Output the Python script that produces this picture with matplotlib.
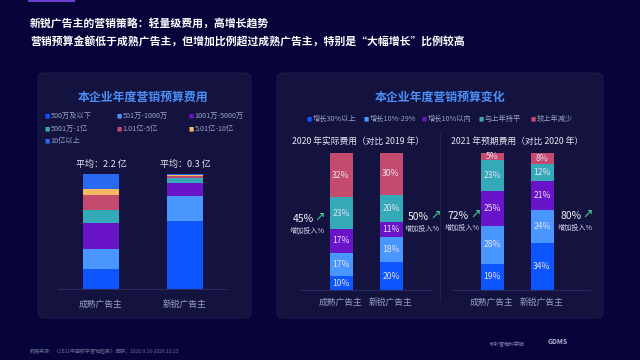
import matplotlib
matplotlib.use("Agg")
import matplotlib.pyplot as plt
from matplotlib.patches import FancyBboxPatch, Rectangle
import numpy as np

plt.rcParams['font.family'] = ['Noto Sans CJK SC', 'DejaVu Sans']

# ---- data ----
headline = ["新锐广告主的营销策略：轻量级费用，高增长趋势",
            "营销预算金额低于成熟广告主，但增加比例超过成熟广告主，特别是“大幅增长”比例较高"]

groups = ["成熟广告主", "新锐广告主"]

budget_bins = ["500万及以下", "501万-1000万", "1001万-5000万", "5001万-1亿",
               "1.01亿-5亿", "5.01亿-10亿", "10亿以上"]
budget_mature = [17.3, 17.3, 23.1, 11.0, 13.0, 4.9, 13.4]
budget_new = [58.7, 22.3, 11.0, 4.6, 1.7, 0.9, 0.8]
budget_avg = ["平均：2.2 亿", "平均：0.3 亿"]

change_cats = ["增长30%以上", "增长10%-29%", "增长10%以内", "与上年持平", "较上年减少"]
y2020_mature = [10, 17, 17, 23, 32]
y2020_new = [20, 18, 11, 20, 30]
y2021_mature = [19, 28, 25, 23, 5]
y2021_new = [34, 24, 21, 12, 8]
increase = ["45%", "50%", "72%", "80%"]

budget_colors = ["#0d55ff", "#4a96ff", "#6a14c9", "#34a9b7", "#c44a6e", "#f6b862", "#2a69f2"]
change_colors = ["#0d55ff", "#4a96ff", "#6a14c9", "#34a9b7", "#c44a6e"]

BG = "#06043a"
PANEL = "#141340"
W, H = 640, 360

fig = plt.figure(figsize=(6.4, 3.6), dpi=100)
fig.patch.set_facecolor(BG)


def fx(x):
    return x / W


def fy(y):
    return 1 - y / H


def ftext(x, y, s, **kw):
    fig.text(fx(x), fy(y), s, **kw)


def axes_px(x0, x1, y0, y1):
    a = fig.add_axes([fx(x0), fy(y1), (x1 - x0) / W, (y1 - y0) / H])
    a.set_zorder(2)
    return a


# decoration + panels (behind the axes)
fig.patches.append(Rectangle((fx(28), fy(2)), 47 / W, 2 / H, transform=fig.transFigure,
                             facecolor="#6b3fd0", edgecolor="none", zorder=-1))
for x0, x1 in [(38, 251), (277, 603)]:
    fig.patches.append(FancyBboxPatch((fx(x0), fy(318)), (x1 - x0) / W, 245 / H,
                                      boxstyle="round,pad=0,rounding_size=0.012",
                                      transform=fig.transFigure, facecolor=PANEL,
                                      edgecolor="#1f1e50", linewidth=0.6, zorder=-1))

ftext(30, 24, headline[0], color="white", fontsize=7.8, fontweight="bold", va="center")
ftext(30, 42, headline[1], color="white", fontsize=7.8, fontweight="bold", va="center")

# ---- left panel ----
ftext(143, 97, "本企业年度营销预算费用", color="#4b8ff8", fontsize=8.6,
      fontweight="bold", ha="center", va="center")
leg_x = [47, 119, 191]
leg_y = [116, 129, 141]
for i, (lab, col) in enumerate(zip(budget_bins, budget_colors)):
    x, y = leg_x[i % 3], leg_y[i // 3]
    ftext(x, y, "■", color=col, fontsize=4, ha="center", va="center",
          family=["DejaVu Sans"])
    ftext(x + 3.5, y, lab, color="#9aa2c4", fontsize=5.2, va="center")

ax = axes_px(58, 227, 174, 289)
ax.set_facecolor("none")
xs = np.arange(2)
for j, series in enumerate([budget_mature, budget_new]):
    vals = np.array(series) / sum(series) * 100
    bottom = 0
    for v, c in zip(vals, budget_colors):
        ax.bar(xs[j], v, bottom=bottom, width=0.44, color=c, linewidth=0)
        bottom += v
ax.set_xlim(-0.512, 1.5)
ax.set_ylim(0, 100)
for s in ["top", "right", "left"]:
    ax.spines[s].set_visible(False)
ax.spines["bottom"].set_color("#2a2960")
ax.set_yticks([])
ax.set_xticks(xs)
ax.set_xticklabels(groups, color="#9aa2c4", fontsize=6.3)
ax.tick_params(axis="x", length=0, pad=8)
for j, t in enumerate(budget_avg):
    ax.text(xs[j], 104, t, color="#e8e8f0", fontsize=6.5, ha="center", va="bottom")

# ---- right panel ----
ftext(440, 97, "本企业年度营销预算变化", color="#4b8ff8", fontsize=8.6,
      fontweight="bold", ha="center", va="center")
cx = [309, 366, 424, 481, 533]
for x, lab, col in zip(cx, change_cats, change_colors):
    ftext(x, 119, "■", color=col, fontsize=4, ha="center", va="center",
          family=["DejaVu Sans"])
    ftext(x + 3.5, 119, lab, color="#9aa2c4", fontsize=5.2, va="center")

ftext(358, 141, "2020 年实际费用（对比 2019 年）", color="#e8e8f0", fontsize=6.3,
      ha="center", va="center")
ftext(517, 141, "2021 年预期费用（对比 2020 年）", color="#e8e8f0", fontsize=6.3,
      ha="center", va="center")
fig.add_artist(plt.Line2D([fx(440), fx(440)], [fy(132), fy(300)], color="#24235a",
                          linewidth=0.6, transform=fig.transFigure, zorder=-0.5))

panels = [((300, 432), (y2020_mature, y2020_new), -0.82, 1.82),
          ((452, 590), (y2021_mature, y2021_new), -0.8, 1.96)]
for (x0, x1), data, lo, hi in panels:
    ax = axes_px(x0, x1, 153, 290)
    ax.set_facecolor("none")
    for j, series in enumerate(data):
        vals = np.array(series) / sum(series) * 100
        bottom = 0
        for raw, v, c in zip(series, vals, change_colors):
            ax.bar(xs[j], v, bottom=bottom, width=0.46, color=c, linewidth=0)
            ax.text(xs[j], bottom + v / 2, f"{raw}%", color="#e6e0f2", fontsize=6.2,
                    ha="center", va="center")
            bottom += v
    ax.set_xlim(lo, hi)
    ax.set_ylim(0, 100)
    for s in ["top", "right", "left"]:
        ax.spines[s].set_visible(False)
    ax.spines["bottom"].set_color("#2a2960")
    ax.set_yticks([])
    ax.set_xticks(xs)
    ax.set_xticklabels(groups, color="#9aa2c4", fontsize=6.3)
    ax.tick_params(axis="x", length=0, pad=6)

ann_pos = [(303, 219), (418, 217), (458, 216), (571, 216)]
for (x, y), t in zip(ann_pos, increase):
    ftext(x, y, t, color="#f0f0f5", fontsize=7.5, ha="center", va="center")
    ftext(x + 17, y - 2, "↗", color="#3fd08f", fontsize=9, ha="center", va="center",
          family=["DejaVu Sans"])
    ftext(x + 4, y + 12, "增加投入%", color="#c8cbe0", fontsize=5.1, ha="center", va="center")

# ---- footer ----
ftext(30, 351, "数据来源：《2021中国数字营销趋势》调研，2020.9.16-2020.10.23",
      color="#6a6f95", fontsize=3.6, va="center")
ftext(490, 345, "秒针营销科学院", color="#8a8fb5", fontsize=3.6, va="center")
ftext(548, 342, "GDMS", color="#b0b4d0", fontsize=5, fontweight="bold", va="center")

fig.savefig("out.png", dpi=100, facecolor=BG)
